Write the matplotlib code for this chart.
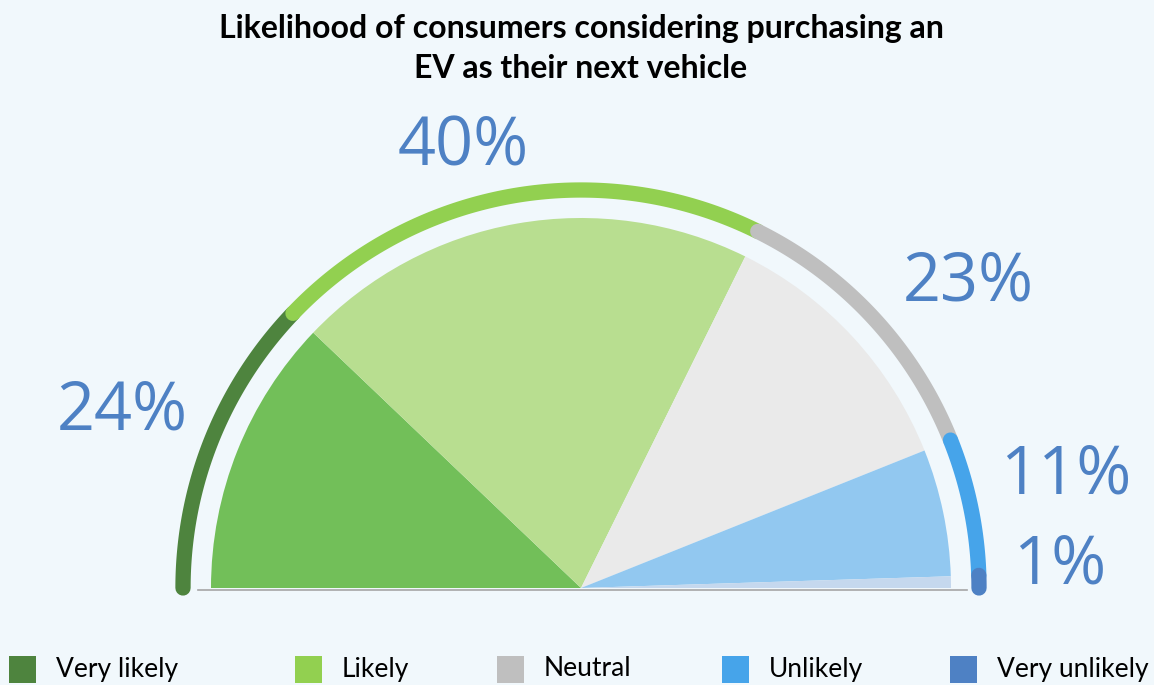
import numpy as np
import matplotlib
matplotlib.use("Agg")
import matplotlib.pyplot as plt
from matplotlib.patches import Wedge, Rectangle

# survey answers (percent)
categories = ["Very likely", "Likely", "Neutral", "Unlikely", "Very unlikely"]
shares = [24, 40, 23, 11, 1]
labels = ["24%", "40%", "23%", "11%", "1%"]

ring_colors = ["#4E843E", "#92D050", "#BFBFBF", "#46A4EA", "#4E81C4"]
fill_colors = ["#72BF59", "#B8DE90", "#EAEAEA", "#92C8F0", "#C5D8EE"]
label_color = "#4E81C4"
bg = "#F1F8FC"

W, H = 1154, 685
fig = plt.figure(figsize=(W / 100, H / 100), dpi=100, facecolor=bg)
ax = fig.add_axes([0, 0, 1, 1])
ax.set_xlim(0, W)
ax.set_ylim(0, H)
ax.set_facecolor(bg)
ax.axis("off")

cx, cy = 581, H - 588
r_fill = 370
r_ring = 398

# angles: half circle from 180 deg (left) to 0 deg (right)
total = sum(shares)
edges = 180 - np.cumsum([0] + shares) / total * 180

for i in range(len(shares)):
    a0, a1 = edges[i + 1], edges[i]
    ax.add_patch(Wedge((cx, cy), r_fill, a0, a1, facecolor=fill_colors[i],
                       edgecolor="none", zorder=2))

# outer ring, each segment with rounded ends laid over the previous one
for i in range(len(shares)):
    a0, a1 = edges[i], edges[i + 1]
    t = np.radians(np.linspace(a0, a1, 100))
    ax.plot(cx + r_ring * np.cos(t), cy + r_ring * np.sin(t),
            color=ring_colors[i], lw=11, solid_capstyle="round", zorder=3 + i)

# baseline
ax.plot([198, 967], [H - 589.5, H - 589.5], color="#A6A6A6", lw=1.2, zorder=1)

# value labels
label_pos = [(122, 412), (463, 148), (968, 283), (1066, 476), (1060, 566)]
for (x, y), s in zip(label_pos, labels):
    ax.text(x, H - y, s, ha="center", va="center", fontsize=48,
            family="Open Sans", color=label_color, zorder=10)

# title
title_font = dict(ha="center", va="center", fontsize=23, fontweight="bold",
                  family="Lato", color="black")
ax.text(581, H - 28, "Likelihood of consumers considering purchasing an", **title_font)
ax.text(581, H - 68, "EV as their next vehicle", **title_font)

# legend
legend_x = [9, 295, 497, 722, 950]
for x, name, c in zip(legend_x, categories, ring_colors):
    ax.add_patch(Rectangle((x, H - 683), 27, 27, facecolor=c, edgecolor="none"))
    ax.text(x + 47, H - 669, name, ha="left", va="center", fontsize=19,
            family="Lato", color="black")

fig.savefig("out.png", dpi=100, facecolor=bg)
